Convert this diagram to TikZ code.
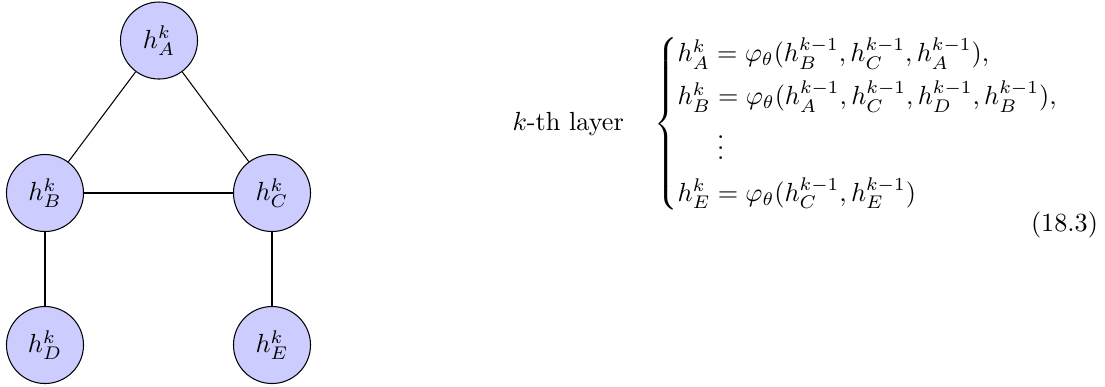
\documentclass[tikz,border=0pt]{standalone}
\usepackage{amsmath}
\begin{document}
\begin{tikzpicture}[x=0.3817pt,y=-0.3817pt,
  gnode/.style={circle,draw=black,fill=blue!20,minimum size=29.4pt,inner sep=0pt},
  edge/.style={draw=black,line width=0.4pt}]
\useasboundingbox (0,0) rectangle (1105,386);
\node[gnode] (A) at (159,40.5) {$h_A^k$};
\node[gnode] (B) at (45,193) {$h_B^k$};
\node[gnode] (C) at (272,193) {$h_C^k$};
\node[gnode] (D) at (45,345) {$h_D^k$};
\node[gnode] (E) at (272,345) {$h_E^k$};
\draw[edge] (A) -- (B);
\draw[edge] (A) -- (C);
\draw[edge] (B) -- (C);
\draw[edge] (B) -- (D);
\draw[edge] (C) -- (E);
\node[anchor=west,inner sep=0pt] (eq) at (512,124) {$\text{$k$-th layer}\quad
\begin{cases}
h_A^k = \varphi_\theta(h_B^{k-1}, h_C^{k-1}, h_A^{k-1}),\\[2pt]
h_B^k = \varphi_\theta(h_A^{k-1}, h_C^{k-1}, h_D^{k-1}, h_B^{k-1}),\\[1.5pt]
\hspace{15pt}\vdots\\[1.5pt]
h_E^k = \varphi_\theta(h_C^{k-1}, h_E^{k-1})
\end{cases}$};
\node[inner sep=0pt] (num) at (1064.5,225) {(18.3)};
\end{tikzpicture}
\end{document}
